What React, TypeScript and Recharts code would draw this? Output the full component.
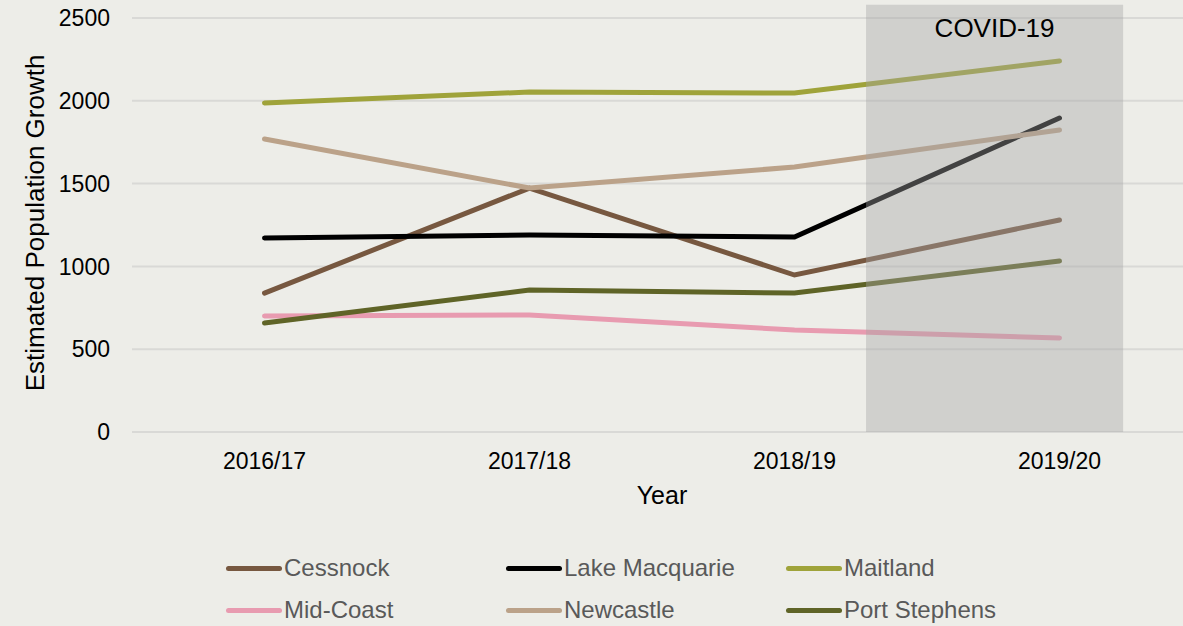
import { LineChart, Line, XAxis, YAxis, CartesianGrid, ReferenceArea, Label } from 'recharts';

const years = ['2016/17', '2017/18', '2018/19', '2019/20'];

const cessnock = [839, 1473, 948, 1280];
const lakeMacquarie = [1171, 1190, 1178, 1896];
const maitland = [1987, 2053, 2047, 2240];
const midCoast = [700, 707, 616, 568];
const newcastle = [1769, 1473, 1600, 1824];
const portStephens = [658, 857, 839, 1033];

const yTicks = [0, 500, 1000, 1500, 2000, 2500];

// COVID-19 shading, in year-index units
const covidStart = 2.27;
const covidEnd = 3.24;

const series = [
  { key: 'Cessnock', values: cessnock, color: '#775840' },
  { key: 'Lake Macquarie', values: lakeMacquarie, color: '#000000' },
  { key: 'Maitland', values: maitland, color: '#9fa33a' },
  { key: 'Mid-Coast', values: midCoast, color: '#e89bb0' },
  { key: 'Newcastle', values: newcastle, color: '#bba289' },
  { key: 'Port Stephens', values: portStephens, color: '#5f6427' },
];

const data = years.map((year, i) => {
  const row: Record<string, string | number> = { year, idx: i };
  series.forEach((s) => {
    row[s.key] = s.values[i];
  });
  return row;
});

const font = '"Liberation Sans", Arial, sans-serif';

const App = () => {
  return (
    <div
      style={{
        position: 'fixed',
        left: 0,
        top: 0,
        width: 1183,
        height: 626,
        overflow: 'hidden',
        background: '#edede8',
        fontFamily: font,
      }}
    >
      <LineChart width={1200} height={626} data={data} margin={{ top: 18, right: 8, bottom: 0, left: 0 }}>
        <CartesianGrid vertical={false} stroke="#d9d9d6" strokeWidth={2} />
        <XAxis
          dataKey="idx"
          type="number"
          domain={[-0.5, 3.5]}
          ticks={[0, 1, 2, 3]}
          tickFormatter={(v: number) => years[v] ?? ''}
          allowDataOverflow
          axisLine={false}
          tickLine={false}
          tickSize={0}
          tickMargin={21}
          height={194}
          tick={{ fill: '#000', fontSize: 23, fontFamily: font }}
        >
          <Label value="Year" position="insideTop" offset={54} fill="#000" fontSize={25} fontFamily={font} />
        </XAxis>
        <YAxis
          domain={[0, 2500]}
          ticks={yTicks}
          axisLine={false}
          tickLine={false}
          tickSize={0}
          tickMargin={22}
          width={132}
          tick={{ fill: '#000', fontSize: 23, fontFamily: font }}
        >
          <Label
            content={() => (
              <text
                x={35}
                y={223}
                transform="rotate(-90, 35, 223)"
                textAnchor="middle"
                dominantBaseline="central"
                fill="#000"
                fontSize={26}
                fontFamily={font}
              >
                Estimated Population Growth
              </text>
            )}
          />
        </YAxis>
        {series.map((s) => (
          <Line
            key={s.key}
            dataKey={s.key}
            type="linear"
            stroke={s.color}
            strokeWidth={5}
            strokeLinecap="round"
            dot={false}
            activeDot={false}
            isAnimationActive={false}
          />
        ))}
        <ReferenceArea
          x1={covidStart}
          x2={covidEnd}
          y1={0}
          y2={2580}
          ifOverflow="visible"
          fill="#a6a6a6"
          fillOpacity={0.4}
          stroke="none"
          zIndex={1000}
        >
          <Label value="COVID-19" position="insideTop" offset={14} fill="#000" fontSize={26} fontFamily={font} />
        </ReferenceArea>
      </LineChart>
      <div
        style={{
          position: 'absolute',
          left: 226,
          top: 547,
          display: 'grid',
          gridTemplateColumns: '280px 280px 280px',
        }}
      >
        {series.map((s) => (
          <div key={s.key} style={{ display: 'flex', alignItems: 'center', height: 42 }}>
            <div style={{ width: 56, height: 5, borderRadius: 3, background: s.color, marginRight: 2 }} />
            <span style={{ color: '#595959', fontSize: 24, fontFamily: font }}>{s.key}</span>
          </div>
        ))}
      </div>
    </div>
  );
};

export default App;
